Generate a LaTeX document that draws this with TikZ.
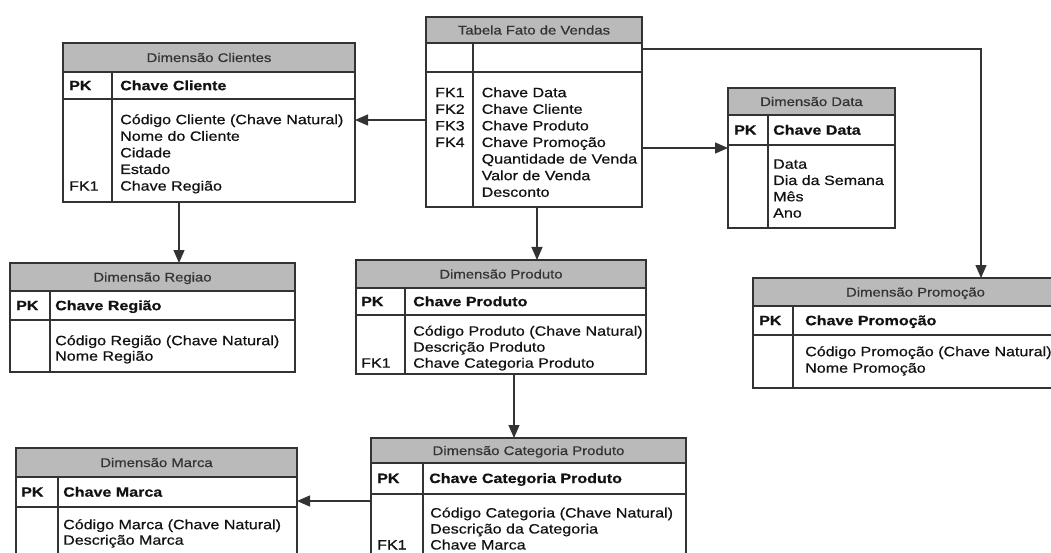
\documentclass[tikz,border=0pt]{standalone}
\usepackage{fontspec}
\setmainfont{Liberation Sans}[FakeStretch=1.19, FakeBold=0.6]
\usetikzlibrary{arrows.meta}
\definecolor{hdr}{gray}{0.73}
\definecolor{ln}{gray}{0.2}
\definecolor{tx}{gray}{0.07}
\definecolor{htx}{gray}{0.2}
\newcommand\ertable[9]{%
  \fill[hdr] (#2,#3) rectangle (#4,#6);
  \node[tbl, minimum width={(#4-#2)*1pt}, minimum height={(#5-#3)*1pt}] (#1) at ({(#2+#4)/2},{(#3+#5)/2}) {};
  \draw[inner] (#1.west |- 0,#6) -- (#1.east |- 0,#6);
  \draw[inner] (#1.west |- 0,#7) -- (#1.east |- 0,#7);
  \draw[inner] (#8,#6) -- (#8,#5);
  \node[hdrtxt] (#1-title) at ({(#2+#4)/2},{(#3+#6)/2+4.5}) {#9};
}
\tikzset{
  tbl/.style={draw=ln, line width=1.4pt, inner sep=0pt, outer sep=0pt},
  inner/.style={draw=ln, line width=1.3pt},
  hdrtxt/.style={anchor=base, inner sep=0pt, text=htx, font=\fontsize{12.5}{15}\selectfont},
  keytxt/.style={anchor=base west, inner sep=0pt, text=tx, font=\fontsize{13.5}{16}\selectfont\bfseries},
  bodytxt/.style={anchor=north west, inner sep=0pt, text=tx, align=left},
  arr/.style={draw=ln, line width=1.3pt, -{Triangle[length=13pt,width=11pt]}},
}
\newcommand\bs[1]{\fontsize{13.5}{#1}\selectfont}
\newcommand\st{\rule{0pt}{11pt}}
\begin{document}
\begin{tikzpicture}[x=1pt,y=-1pt]
\useasboundingbox (0,0) rectangle (1051,553);
\clip (0,0) rectangle (1051,553);
\fill[white] (0,0) rectangle (1051,553);

% Dimensao Clientes
\ertable{cli}{63}{43}{355}{202}{72}{99}{112}{Dimensão Clientes}
\node[keytxt] (cli-pk) at (69,90.2) {PK};
\node[keytxt] (cli-key) at (120,90.2) {Chave Cliente};
\node[bodytxt, font=\bs{16.6}] (cli-fk) at (69,113) {\st~\\~\\~\\~\\FK1};
\node[bodytxt, font=\bs{16.6}] (cli-body) at (120,113) {\st Código Cliente (Chave Natural)\\Nome do Cliente\\Cidade\\Estado\\Chave Região};

% Tabela Fato de Vendas
\ertable{fato}{426}{17}{642}{207}{43}{72}{473}{Tabela Fato de Vendas}
\node[bodytxt, font=\bs{16.6}] (fato-fk) at (435,86) {\st FK1\\FK2\\FK3\\FK4};
\node[bodytxt, font=\bs{16.6}] (fato-body) at (481.5,86) {\st Chave Data\\Chave Cliente\\Chave Produto\\Chave Promoção\\Quantidade de Venda\\Valor de Venda\\Desconto};

% Dimensao Data
\ertable{data}{728}{88}{895}{228}{115}{145}{768}{Dimensão Data}
\node[keytxt] (data-pk) at (734,134.7) {PK};
\node[keytxt] (data-key) at (773,134.7) {Chave Data};
\node[bodytxt, font=\bs{16.3}] (data-body) at (773,157.5) {\st Data\\Dia da Semana\\Mês\\Ano};

% Dimensao Regiao
\ertable{reg}{10}{263}{295}{372}{291}{320}{50}{Dimensão Regiao}
\node[keytxt] (reg-pk) at (16,310.2) {PK};
\node[keytxt] (reg-key) at (55,310.2) {Chave Região};
\node[bodytxt, font=\bs{15.5}] (reg-body) at (55,334) {\st Código Região (Chave Natural)\\Nome Região};

% Dimensao Produto
\ertable{prod}{356}{260}{646}{374}{288}{315}{405}{Dimensão Produto}
\node[keytxt] (prod-pk) at (361,306.2) {PK};
\node[keytxt] (prod-key) at (413,306.2) {Chave Produto};
\node[bodytxt, font=\bs{16}] (prod-fk) at (361,324.5) {\st~\\~\\FK1};
\node[bodytxt, font=\bs{16}] (prod-body) at (413,324.5) {\st Código Produto (Chave Natural)\\Descrição Produto\\Chave Categoria Produto};

% Dimensao Promocao
\ertable{promo}{753}{278}{1078}{388}{306}{335}{793}{Dimensão Promoção}
\node[keytxt] (promo-pk) at (759,325.2) {PK};
\node[keytxt] (promo-key) at (805,325.2) {Chave Promoção};
\node[bodytxt, font=\bs{16.5}] (promo-body) at (805,345) {\st Código Promoção (Chave Natural)\\Nome Promoção};

% Dimensao Categoria Produto
\ertable{cat}{371}{438}{686}{580}{463}{494}{423}{Dimensão Categoria Produto}
\node[keytxt] (cat-pk) at (377,483) {PK};
\node[keytxt] (cat-key) at (429,483) {Chave Categoria Produto};
\node[bodytxt, font=\bs{16}] (cat-fk) at (377,506.3) {\st~\\~\\FK1};
\node[bodytxt, font=\bs{16}] (cat-body) at (430,506.3) {\st Código Categoria (Chave Natural)\\Descrição da Categoria\\Chave Marca};

% Dimensao Marca
\ertable{marca}{16}{448}{297}{580}{477}{507}{58}{Dimensão Marca}
\node[keytxt] (marca-pk) at (21,496.7) {PK};
\node[keytxt] (marca-key) at (63,496.7) {Chave Marca};
\node[bodytxt, font=\bs{15.5}] (marca-body) at (63,518) {\st Código Marca (Chave Natural)\\Descrição Marca};

% connectors
\coordinate (y120) at (0,120);
\coordinate (y148) at (0,148);
\coordinate (y49) at (0,49);
\coordinate (y501) at (0,501);
\coordinate (x981) at (981,0);
\coordinate (x537) at (537,0);
\coordinate (x179) at (179,0);
\coordinate (x514) at (514,0);
\draw[arr] (fato.west |- y120) -- (cli.east |- y120);
\draw[arr] (fato.east |- y148) -- (data.west |- y148);
\draw[arr] (fato.east |- y49) -| (x981 |- promo.north);
\draw[arr] (x537 |- fato.south) -- (x537 |- prod.north);
\draw[arr] (x179 |- cli.south) -- (x179 |- reg.north);
\draw[arr] (x514 |- prod.south) -- (x514 |- cat.north);
\draw[arr] (cat.west |- y501) -- (marca.east |- y501);
\end{tikzpicture}
\end{document}
